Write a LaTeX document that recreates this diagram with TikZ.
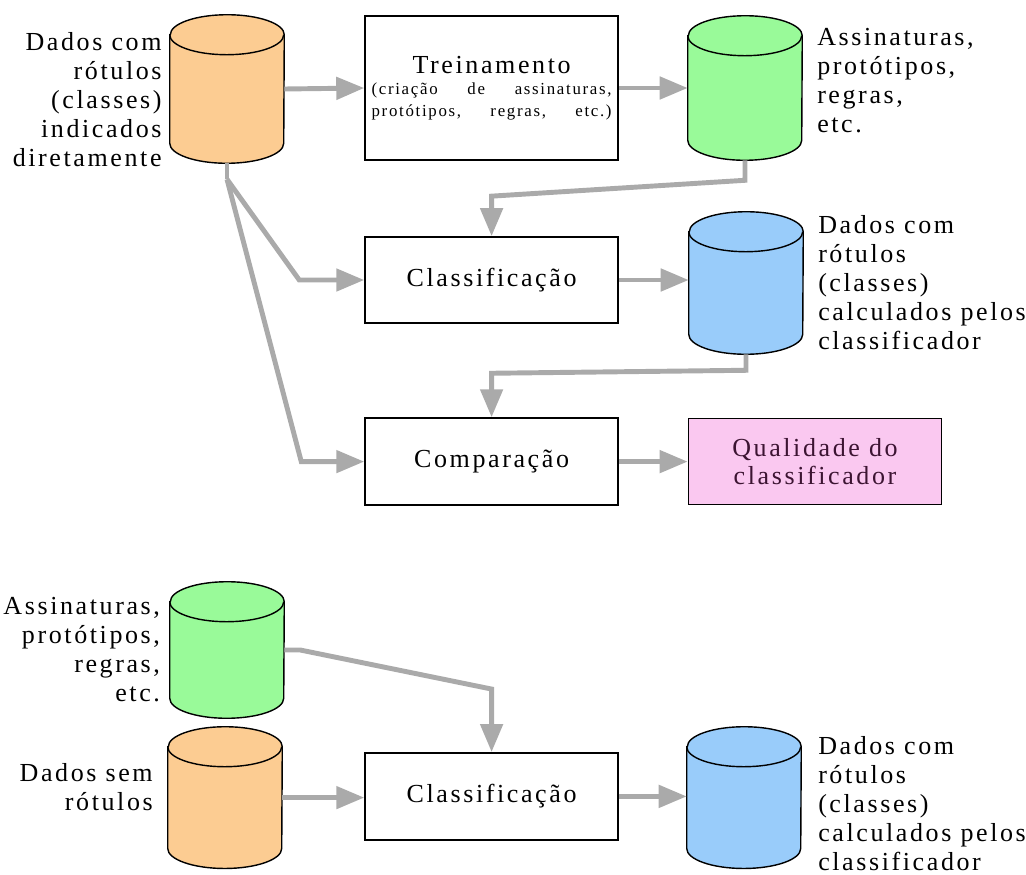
\documentclass[tikz,border=0pt]{standalone}
\usepackage{fontspec}
\setmainfont{Liberation Serif}[LetterSpace=10]
\usetikzlibrary{positioning,arrows.meta,calc}

\definecolor{laranja}{RGB}{252,204,146}
\definecolor{verde}{RGB}{153,250,153}
\definecolor{azul}{RGB}{153,204,250}
\definecolor{rosa}{RGB}{250,200,240}
\definecolor{cinza}{RGB}{170,170,170}
\definecolor{vinho}{RGB}{60,20,50}

\newcommand{\pequeno}{\fontsize{12}{13.5}\selectfont}
% cilindro desenhado sobre o no retangular #1
\newcommand{\cilindro}[2]{%
  \draw[fill=#2, line width=1pt] ($(#1.north west)+(0,-0.5)$) -- ($(#1.south west)+(0,0.5)$)
       arc[start angle=180, end angle=360, x radius=1.425cm, y radius=0.5cm]
       -- ($(#1.north east)+(0,-0.5)$)
       arc[start angle=0, end angle=180, x radius=1.425cm, y radius=0.5cm] -- cycle;
  \draw[line width=1pt] ($(#1.north west)+(0,-0.5)$)
       arc[start angle=180, end angle=360, x radius=1.425cm, y radius=0.5cm];}

\tikzset{
  banco/.style={rectangle, minimum width=2.85cm, minimum height=3.6cm, inner sep=0pt},
  caixa/.style={rectangle, draw, line width=1.2pt, minimum width=6.325cm, minimum height=2.15cm},
  linha/.style={draw=cinza, line width=3.5pt},
  seta/.style={linha, -{Triangle[length=0.7cm,width=0.55cm]}}
}

\begin{document}
\begin{tikzpicture}[font=\fontsize{18.5}{20.6}\selectfont]
  \useasboundingbox (0,0) rectangle (25.65,-21.875);

  % parte de cima
  \node[banco, minimum height=3.7cm] (dat1) at (5.675,-2.225) {};
  \node[caixa, minimum height=3.6cm, align=center] (trein) at (12.29,-2.2)
       {Treinamento\\[-6pt]
        \pequeno\makebox[6cm][s]{(criação de assinaturas,}\\[-5pt]
        \pequeno\makebox[6cm][s]{protótipos, regras, etc.)}};
  \node[banco] (ass1) at (18.625,-2.2) {};
  \node[caixa] (cls1) at (12.29,-7.0) {Classificação};
  \node[banco, minimum height=3.55cm] (cal1) at (18.65,-7.075) {};
  \node[caixa, minimum height=2.175cm] (comp) at (12.29,-11.54) {Comparação};
  \node[caixa, fill=rosa, text=vinho, align=center] (qual) at (20.375,-11.54) {Qualidade do\\classificador};

  \cilindro{dat1}{laranja}
  \cilindro{ass1}{verde}
  \cilindro{cal1}{azul}

  \node[align=right, left=0.08cm of dat1, yshift=-0.27cm] (tdat1)
       {Dados com\\rótulos\\(classes)\\indicados\\diretamente};
  \node[align=left, right=0.25cm of ass1, yshift=0.19cm] (tass1)
       {Assinaturas,\\protótipos,\\regras,\\etc.};
  \node[align=left, right=0.25cm of cal1] (tcal1)
       {Dados com\\rótulos\\(classes)\\calculados pelos\\classificador};

  \draw[seta] (dat1.east) -- (trein.west);
  \draw[seta] (trein.east) -- (trein.east -| ass1.west);
  \draw[linha] (dat1.south) -- ++(0,-0.4) coordinate (garfo);
  \draw[seta] (garfo) -- ($(cls1.west)+(-1.625,0)$) -- (cls1.west);
  \draw[seta] (garfo) -- ($(comp.west)+(-1.575,0)$) -- (comp.west);
  \draw[seta] (ass1.south) -- ++(0,-0.5) -- ($(cls1.north)+(0,1.0)$) -- (cls1.north);
  \draw[seta] (cls1.east) -- (cls1.east -| cal1.west);
  \draw[seta] (cal1.south) -- ++(0,-0.4) -- ($(comp.north)+(0,1.1)$) -- (comp.north);
  \draw[seta] (comp.east) -- (qual.west);

  % parte de baixo
  \node[banco, minimum height=3.4cm] (ass2) at (5.675,-16.25) {};
  \node[banco, minimum height=3.53cm] (sem) at (5.625,-19.94) {};
  \node[caixa, minimum height=2.175cm] (cls2) at (12.29,-19.91) {Classificação};
  \node[banco, minimum height=3.53cm] (cal2) at (18.6,-19.94) {};

  \cilindro{ass2}{verde}
  \cilindro{sem}{laranja}
  \cilindro{cal2}{azul}

  \node[align=right, left=0.12cm of ass2] (tass2)
       {Assinaturas,\\protótipos,\\regras,\\etc.};
  \node[align=right, left=0.25cm of sem, yshift=0.26cm] (tsem)
       {Dados sem\\rótulos};
  \node[align=left, right=0.3cm of cal2, yshift=-0.16cm] (tcal2)
       {Dados com\\rótulos\\(classes)\\calculados pelos\\classificador};

  \draw[seta] (ass2.east) -- ++(0.4,0) -- ($(cls2.north)+(0,1.575)$) -- (cls2.north);
  \draw[seta] (sem.east) -- (sem.east -| cls2.west);
  \draw[seta] (cls2.east) -- (cls2.east -| cal2.west);
\end{tikzpicture}
\end{document}
